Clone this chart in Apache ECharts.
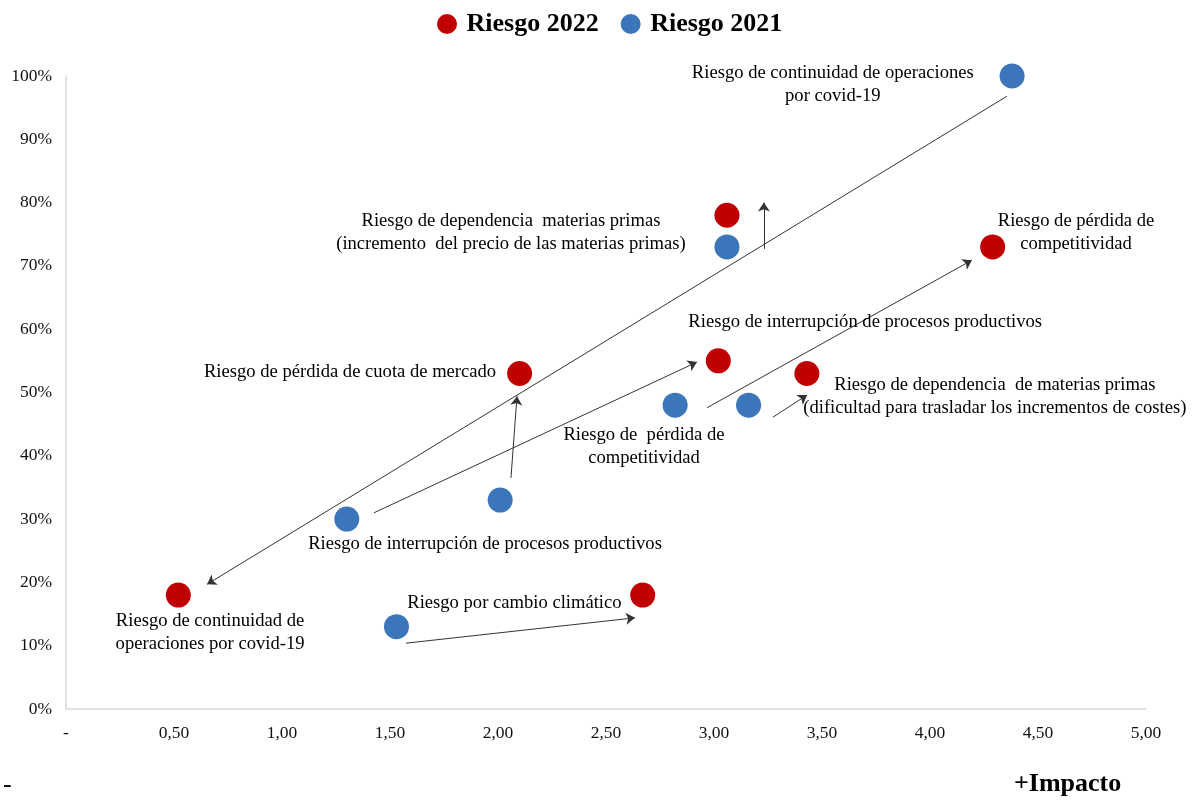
<!DOCTYPE html>
<html>
<head>
<meta charset="utf-8">
<script src="https://cdn.jsdelivr.net/npm/echarts@6/dist/echarts.min.js"></script>
<style>
html,body{margin:0;padding:0;background:#fff;}
#main{width:1200px;height:801px;}
</style>
</head>
<body>
<div id="main"></div>
<script>
// Data: [impacto, probabilidad %]
var riesgo2022 = [[0.52,18],[2.10,53],[3.06,78],[3.02,55],[3.43,53],[4.29,73],[2.67,18]];
var riesgo2021 = [[4.38,100],[3.06,73],[2.82,48],[3.16,48],[2.01,33],[1.30,30],[1.53,13]];
var xTicks = [0,0.5,1,1.5,2,2.5,3,3.5,4,4.5,5];
var yTicks = [0,10,20,30,40,50,60,70,80,90,100];

// Annotation texts with anchor positions in data units
var annotationTexts = [
  'Riesgo de continuidad de operaciones\npor covid-19',
  'Riesgo de dependencia  materias primas\n(incremento  del precio de las materias primas)',
  'Riesgo de pérdida de cuota de mercado',
  'Riesgo de interrupción de procesos productivos',
  'Riesgo de pérdida de\ncompetitividad',
  'Riesgo de dependencia  de materias primas\n(dificultad para trasladar los incrementos de costes)',
  'Riesgo de  pérdida de\ncompetitividad',
  'Riesgo de interrupción de procesos productivos',
  'Riesgo de continuidad de\noperaciones por covid-19',
  'Riesgo por cambio climático'
];
var annotationAnchors = [[3.55,98.7],[2.06,75.2],[1.315,53.2],[3.70,61.1],[4.676,75.2],[4.30,49.3],[2.676,41.5],[1.94,26.1],[0.667,12.0],[2.076,16.7]];

// Arrows (from -> to) in data units
var arrowFrom = [[4.356,96.8],[3.231,72.7],[2.968,47.6],[1.426,31.0],[2.06,36.5],[3.273,46.1],[1.574,10.4]];
var arrowTo   = [[0.653,19.7],[3.231,80.0],[4.194,70.9],[2.921,54.8],[2.088,49.4],[3.431,49.6],[2.634,14.4]];

var serif = "'Liberation Serif','Times New Roman',serif";
var chart = echarts.init(document.getElementById('main'));

var annData = annotationTexts.map(function(t,i){
  return {name:t, value:annotationAnchors[i]};
});
var arrowData = arrowFrom.map(function(f,i){ return {coords:[f, arrowTo[i]]}; });

chart.setOption({
  animation:false,
  backgroundColor:'#fff',
  legend:{
    top:11, left:437, padding:0,
    icon:'circle', itemWidth:21, itemHeight:20, itemGap:22,
    data:['Riesgo 2022','Riesgo 2021'],
    textStyle:{fontFamily:serif, fontSize:26, fontWeight:'bold', color:'#000', padding:[0,0,0,4]}
  },
  grid:{left:66, right:54, top:76, bottom:92},
  xAxis:{
    type:'value', min:0, max:5, interval:0.5,
    axisLine:{show:true, lineStyle:{color:'#d9d9d9', width:1.5}},
    axisTick:{show:false},
    splitLine:{show:false},
    axisLabel:{
      margin:15, fontFamily:serif, fontSize:17.5, color:'#111',
      formatter:function(v){ return v===0 ? '-' : v.toFixed(2).replace('.',','); }
    }
  },
  yAxis:{
    type:'value', min:0, max:100, interval:10,
    axisLine:{show:true, lineStyle:{color:'#d9d9d9', width:1.5}},
    axisTick:{show:false},
    splitLine:{show:false},
    axisLabel:{
      margin:14, fontFamily:serif, fontSize:17.5, color:'#111',
      formatter:function(v){ return v+'%'; }
    }
  },
  graphic:[
    {type:'text', left:3, top:772, style:{text:'-', font:'26px '+serif, fill:'#000'}},
    {type:'text', left:1014, top:771, style:{text:'+Impacto', font:'bold 26px '+serif, fill:'#000'}}
  ],
  series:[
    {
      name:'Riesgo 2022', type:'scatter', data:riesgo2022,
      symbolSize:25, itemStyle:{color:'#c00000', opacity:1}, z:3
    },
    {
      name:'Riesgo 2021', type:'scatter', data:riesgo2021,
      symbolSize:25, itemStyle:{color:'#3a76b9', opacity:1}, z:3
    },
    {
      name:'arrows', type:'lines', coordinateSystem:'cartesian2d',
      data:arrowData, symbol:['none','arrow'], symbolSize:9,
      lineStyle:{color:'#333', width:1, opacity:1}, z:4, silent:true
    },
    {
      name:'annotations', type:'scatter', data:annData,
      symbolSize:0, silent:true, z:5, itemStyle:{opacity:1, color:'#000'},
      label:{
        show:true, position:'inside',
        formatter:function(p){ return p.name; },
        fontFamily:serif, fontSize:18.6, lineHeight:23, color:'#000', align:'center', verticalAlign:'middle'
      }
    }
  ]
});
</script>
</body>
</html>
